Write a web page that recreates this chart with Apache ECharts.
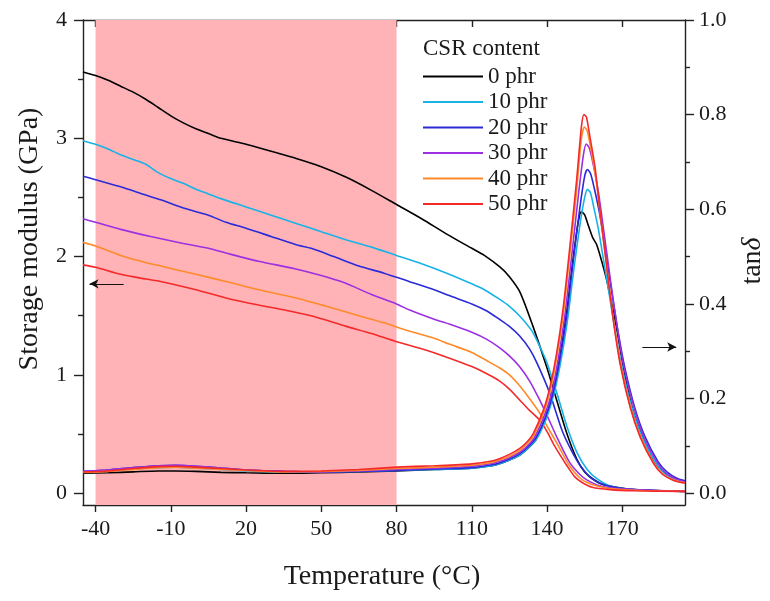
<!DOCTYPE html>
<html><head><meta charset="utf-8">
<script src="https://cdn.jsdelivr.net/npm/echarts@6/dist/echarts.min.js"></script>
<style>html,body{margin:0;padding:0;background:#fff}#c{width:770px;height:601px}</style>
</head><body><div id="c"></div>
<script>
// ---------- data ----------
const seriesNames = ['0 phr', '10 phr', '20 phr', '30 phr', '40 phr', '50 phr'];
const xTicks = [-40, -10, 20, 50, 80, 110, 140, 170];
const leftTicks = [0, 1, 2, 3, 4];
const leftMinorTicks = [0.5, 1.5, 2.5, 3.5];
const rightTicks = [0, 0.2, 0.4, 0.6, 0.8, 1.0];
const rightMinorTicks = [0.1, 0.3, 0.5, 0.7, 0.9];
const operatingRange = [-40, 80];
const leftArrow = [[-28.8, 1.77], [-42.4, 1.77]];
const rightArrow = [[178, 0.309], [191.5, 0.309]];

// storage modulus (GPa)
const E0 = [[-45,3.56],[-40,3.53],[-35,3.49],[-30,3.44],[-25,3.39],[-20,3.33],[-15,3.26],[-10,3.19],[-5,3.13],[0,3.08],[5,3.04],[10,3.00],[20,2.95],[30,2.89],[40,2.83],[50,2.76],[60,2.67],[70,2.56],[80,2.44],[90,2.32],[100,2.19],[110,2.07],[115,2.01],[121.3,1.91],[125,1.83],[129.2,1.70],[134.4,1.41],[139.8,1.07],[143.8,0.79],[147.8,0.51],[151.8,0.29],[155,0.18],[158.3,0.12],[162,0.075],[167.7,0.05],[175,0.03],[185,0.02],[195,0.015]];
const E10 = [[-45,2.98],[-40,2.95],[-35,2.91],[-30,2.86],[-25,2.82],[-20,2.78],[-15,2.71],[-10,2.66],[-5,2.62],[0,2.57],[5,2.53],[10,2.49],[20,2.42],[30,2.35],[40,2.28],[50,2.21],[60,2.14],[70,2.08],[80,2.01],[90,1.94],[100,1.86],[110,1.77],[115,1.72],[121,1.64],[125,1.58],[129,1.50],[134,1.37],[138,1.20],[140,1.10],[144,0.84],[148,0.56],[152,0.34],[156,0.20],[160,0.12],[165,0.06],[170,0.04],[180,0.025],[195,0.015]];
const E20 = [[-45,2.68],[-40,2.65],[-30,2.59],[-20,2.52],[-14,2.48],[-5,2.41],[5,2.35],[12,2.29],[20,2.24],[30,2.17],[40,2.10],[46,2.07],[55,2.00],[65,1.92],[75,1.86],[85,1.79],[95,1.72],[101,1.67],[110,1.60],[116,1.54],[121,1.47],[125,1.41],[129,1.33],[133,1.22],[136,1.10],[141,0.85],[146,0.53],[150,0.35],[154,0.21],[158,0.12],[163,0.07],[170,0.04],[180,0.025],[195,0.015]];
const E30 = [[-45,2.32],[-40,2.29],[-30,2.23],[-18,2.17],[-5,2.11],[5,2.07],[12,2.03],[25,1.96],[39,1.90],[50,1.84],[59,1.78],[70,1.68],[80,1.60],[85,1.55],[95,1.47],[101,1.43],[110,1.36],[116,1.30],[121,1.23],[125,1.16],[129,1.07],[133,0.95],[137,0.79],[141,0.61],[144,0.47],[149,0.26],[153,0.16],[156,0.11],[160,0.07],[165,0.045],[175,0.03],[195,0.015]];
const E40 = [[-45,2.12],[-40,2.09],[-30,2.01],[-20,1.95],[-14,1.92],[0,1.85],[12,1.79],[25,1.72],[40,1.65],[52,1.58],[65,1.50],[75,1.44],[85,1.37],[95,1.31],[101,1.26],[110,1.19],[116,1.12],[121,1.06],[125,1.00],[129,0.91],[133,0.80],[137,0.68],[141,0.53],[144,0.42],[149,0.23],[153,0.13],[156,0.09],[160,0.06],[165,0.04],[175,0.025],[195,0.015]];
const E50 = [[-45,1.93],[-40,1.91],[-30,1.85],[-20,1.81],[-14,1.79],[0,1.72],[12,1.65],[25,1.59],[35,1.55],[46,1.50],[60,1.41],[70,1.35],[80,1.28],[90,1.22],[100,1.15],[110,1.07],[116,1.01],[121,0.95],[125,0.88],[129,0.79],[133,0.70],[137,0.62],[140,0.52],[143,0.40],[148,0.23],[151,0.14],[154,0.09],[158,0.05],[165,0.03],[175,0.02],[195,0.015]];

// tan delta
const T0 = [[-45,0.042],[-35,0.043],[-25,0.045],[-15,0.047],[-8,0.047],[0,0.046],[10,0.044],[20,0.043],[35,0.042],[50,0.043],[65,0.045],[80,0.047],[95,0.050],[110,0.053],[118,0.058],[121,0.062],[125,0.070],[129,0.080],[132,0.093],[135.5,0.112],[139.5,0.16],[142.5,0.215],[145.2,0.29],[148,0.39],[150.5,0.5],[152.5,0.575],[153.7,0.595],[155,0.588],[156.5,0.565],[158.2,0.54],[159.8,0.525],[161.8,0.49],[163.8,0.45],[165.8,0.40],[167.7,0.35],[170.3,0.27],[174,0.18],[178,0.12],[183,0.065],[187,0.042],[191,0.03],[195,0.023]];
const T10 = [[-45,0.045],[-35,0.047],[-25,0.051],[-15,0.054],[-8,0.055],[0,0.053],[10,0.050],[20,0.047],[35,0.045],[50,0.045],[65,0.046],[80,0.048],[95,0.050],[110,0.053],[118,0.058],[121,0.062],[125,0.070],[129,0.080],[132,0.093],[135.5,0.112],[139.5,0.155],[142.5,0.205],[145.2,0.27],[148,0.36],[150.6,0.47],[153.2,0.57],[155,0.625],[156.1,0.642],[157.3,0.635],[158.6,0.605],[160.4,0.56],[162.3,0.5],[164.8,0.42],[167.4,0.335],[170.1,0.26],[174,0.178],[178,0.118],[183.4,0.063],[187,0.041],[191,0.029],[195,0.023]];
const T20 = [[-45,0.046],[-35,0.049],[-25,0.054],[-15,0.058],[-8,0.059],[0,0.057],[10,0.053],[20,0.049],[35,0.046],[50,0.045],[65,0.046],[80,0.048],[95,0.051],[110,0.054],[118,0.060],[121,0.064],[125,0.072],[129,0.083],[132,0.096],[135.3,0.115],[139.3,0.16],[142.3,0.21],[145,0.28],[147.7,0.37],[150.3,0.485],[153,0.6],[155,0.67],[156.1,0.684],[157.3,0.676],[158.8,0.645],[160.8,0.595],[162.8,0.53],[165.5,0.435],[168.2,0.345],[171,0.265],[175,0.18],[179,0.12],[184.3,0.066],[188,0.044],[192,0.031],[195,0.026]];
const T30 = [[-45,0.046],[-35,0.049],[-25,0.054],[-15,0.058],[-8,0.059],[0,0.057],[10,0.053],[20,0.049],[35,0.046],[50,0.045],[65,0.047],[80,0.050],[95,0.053],[110,0.057],[118,0.063],[121,0.067],[125,0.075],[129,0.086],[132,0.099],[135,0.118],[139,0.165],[142,0.215],[144.5,0.285],[147.2,0.38],[149.8,0.50],[152.5,0.63],[154.5,0.715],[155.6,0.738],[156.8,0.73],[158.4,0.695],[160.5,0.635],[162.6,0.555],[165.3,0.45],[168,0.35],[170.7,0.265],[174.7,0.18],[178.7,0.118],[184,0.064],[187.5,0.042],[191.5,0.03],[195,0.024]];
const T40 = [[-45,0.044],[-35,0.046],[-25,0.050],[-15,0.054],[-8,0.055],[0,0.053],[10,0.050],[20,0.048],[35,0.045],[50,0.046],[65,0.048],[80,0.052],[95,0.055],[110,0.059],[118,0.065],[121,0.070],[125,0.078],[129,0.090],[132,0.104],[134.5,0.120],[138.5,0.168],[141.2,0.215],[143.8,0.285],[146.5,0.38],[149.1,0.505],[151.8,0.64],[153.7,0.75],[154.9,0.774],[156,0.766],[157.4,0.73],[159.4,0.668],[161.4,0.58],[164.1,0.466],[166.7,0.36],[169.4,0.27],[173.4,0.18],[177.4,0.118],[182.7,0.063],[186.3,0.04],[190.6,0.028],[195,0.022]];
const T50 = [[-45,0.045],[-35,0.047],[-25,0.052],[-15,0.056],[-8,0.057],[0,0.055],[10,0.052],[20,0.049],[35,0.046],[50,0.047],[65,0.050],[80,0.055],[95,0.058],[110,0.062],[118,0.068],[121,0.073],[125,0.082],[129,0.094],[132,0.108],[134.5,0.126],[138.5,0.175],[141.2,0.225],[143.8,0.295],[146.5,0.394],[149.1,0.521],[151.8,0.662],[153.7,0.774],[154.7,0.80],[155.7,0.795],[157.1,0.753],[159.1,0.69],[161.1,0.598],[163.8,0.478],[166.4,0.366],[169.1,0.274],[173.1,0.182],[177.1,0.119],[182.4,0.063],[186,0.04],[190.4,0.027],[195,0.021]];

const storageData = [E0, E10, E20, E30, E40, E50];
const tanData = [T0, T10, T20, T30, T40, T50];
const colors = ['#000000', '#17b3e8', '#2a2ad8', '#9a30e2', '#ff8a2a', '#f42a2a'];

// ---------- chart ----------
const FONT = 'Liberation Serif';
const TXT = '#1a1a1a';
const AX = '#222';
const chart = echarts.init(document.getElementById('c'), null, {renderer: 'canvas'});

const lineSeries = (name, data, yIdx, color) => ({
  name, type: 'line', data, xAxisIndex: 0, yAxisIndex: yIdx,
  showSymbol: false, symbol: 'none', smooth: 0.25,
  lineStyle: {color, width: 1.6}, itemStyle: {color}, z: 3, animation: false
});

const series = [];
series.push({
  name: 'band', type: 'line', data: [], xAxisIndex: 0, yAxisIndex: 0, z: 1, silent: true,
  markArea: {silent: true, itemStyle: {color: '#ffb3b7', opacity: 1},
    data: [[{xAxis: operatingRange[0]}, {xAxis: operatingRange[1]}]]}
});
seriesNames.forEach((n, i) => series.push(lineSeries(n, storageData[i], 0, colors[i])));
seriesNames.forEach((n, i) => series.push(lineSeries(n, tanData[i], 2, colors[i])));
const arrowStyle = {silent: true, symbol: ['none', 'arrow'], symbolSize: [7, 9], label: {show: false},
  lineStyle: {color: '#111', width: 1.2, type: 'solid'}, animation: false};
series.push({name: 'arrowL', type: 'line', data: [], xAxisIndex: 0, yAxisIndex: 0, z: 4,
  markLine: Object.assign({data: [[{coord: leftArrow[0]}, {coord: leftArrow[1]}]]}, arrowStyle)});
series.push({name: 'arrowR', type: 'line', data: [], xAxisIndex: 0, yAxisIndex: 2, z: 4,
  markLine: Object.assign({data: [[{coord: rightArrow[0]}, {coord: rightArrow[1]}]]}, arrowStyle)});

const axisLineStyle = {show: true, onZero: false, lineStyle: {color: AX, width: 1.4}};
const labelStyle = {fontFamily: FONT, fontSize: 22, color: TXT};

const option = {
  animation: false,
  backgroundColor: '#ffffff',
  grid: {left: 83, right: 85, top: 20, bottom: 96, containLabel: false},
  xAxis: [
    {type: 'value', position: 'bottom', min: -45, max: 195,
      axisLine: axisLineStyle, splitLine: {show: false},
      axisTick: {show: true, inside: false, length: 7, customValues: xTicks, lineStyle: {color: AX, width: 1.4}},
      axisLabel: Object.assign({show: true, margin: 13, customValues: xTicks, formatter: v => String(v)}, labelStyle)},
    {type: 'value', position: 'top', min: -45, max: 195,
      axisLine: axisLineStyle, splitLine: {show: false},
      axisTick: {show: true, inside: true, length: 7, customValues: xTicks, lineStyle: {color: AX, width: 1.4}},
      axisLabel: {show: false}}
  ],
  yAxis: [
    {type: 'value', position: 'left', min: -0.1, max: 4,
      axisLine: axisLineStyle, splitLine: {show: false},
      axisTick: {show: true, length: 9, customValues: leftTicks, lineStyle: {color: AX, width: 1.4}},
      axisLabel: Object.assign({show: true, margin: 16, customValues: leftTicks, formatter: v => String(Math.round(v))}, labelStyle)},
    {type: 'value', position: 'left', min: -0.1, max: 4,
      axisLine: {show: false, onZero: false}, splitLine: {show: false},
      axisTick: {show: true, length: 5, customValues: leftMinorTicks, lineStyle: {color: AX, width: 1.4}},
      axisLabel: {show: false}},
    {type: 'value', position: 'right', min: -0.025, max: 1.0,
      axisLine: axisLineStyle, splitLine: {show: false},
      axisTick: {show: true, length: 9, customValues: rightTicks, lineStyle: {color: AX, width: 1.4}},
      axisLabel: Object.assign({show: true, margin: 14, customValues: rightTicks, formatter: v => v.toFixed(1)}, labelStyle)},
    {type: 'value', position: 'right', min: -0.025, max: 1.0,
      axisLine: {show: false, onZero: false}, splitLine: {show: false},
      axisTick: {show: true, length: 5, customValues: rightMinorTicks, lineStyle: {color: AX, width: 1.4}},
      axisLabel: {show: false}}
  ],
  legend: {
    data: seriesNames, orient: 'vertical', left: 423, top: 65, padding: 0,
    icon: 'path://M0 0 H60 V2 H0 Z',
    itemWidth: 60, itemHeight: 2, itemGap: 2.5, selectedMode: false,
    textStyle: {fontFamily: FONT, fontSize: 23, color: TXT, lineHeight: 23}
  },
  graphic: [
    {type: 'text', left: 423, top: 37, style: {text: 'CSR content', font: '23px "Liberation Serif"', fill: TXT}},
    {type: 'text', left: 120, top: 364, style: {text: 'Operating temperature', font: '26px "Liberation Serif"', fill: '#ee1c25'}},
    {type: 'text', x: 382, y: 577, style: {text: 'Temperature (°C)', font: '28px "Liberation Serif"', fill: TXT, align: 'center', verticalAlign: 'middle'}},
    {type: 'text', x: 30, y: 239, rotation: Math.PI / 2, style: {text: 'Storage modulus (GPa)', font: '28px "Liberation Serif"', fill: TXT, align: 'center', verticalAlign: 'middle'}},
    {type: 'text', x: 753, y: 261, rotation: Math.PI / 2,
      style: {text: '{a|tan}{b|δ}', align: 'center', verticalAlign: 'middle',
        rich: {a: {fontFamily: FONT, fontSize: 28, fill: TXT, color: TXT}, b: {fontFamily: FONT, fontSize: 28, fontStyle: 'italic', color: TXT, fill: TXT}}}}
  ],
  series
};
chart.setOption(option);
</script>
</body></html>
